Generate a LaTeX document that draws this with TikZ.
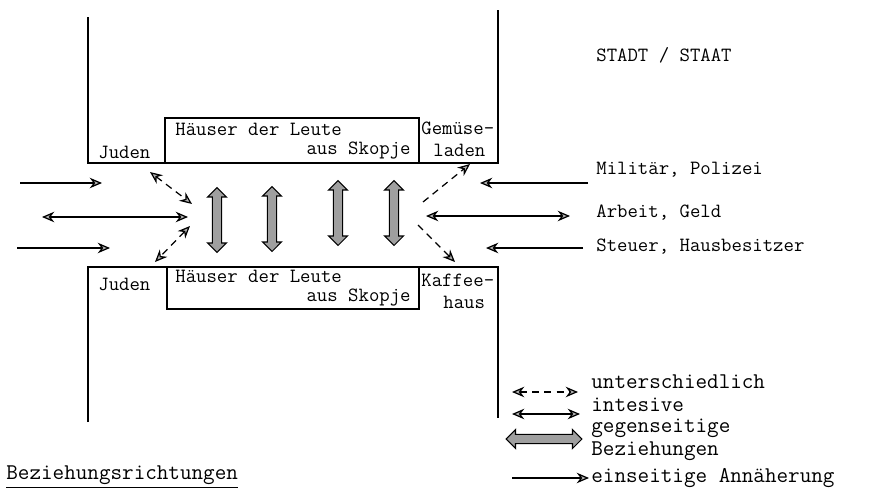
\documentclass[tikz,border=0pt]{standalone}
\usepackage{fontspec}
\usetikzlibrary{positioning}
\usetikzlibrary{arrows.meta}
\usetikzlibrary{shapes.arrows}
\tikzset{
    street plan/.style={
            x=0.02cm,y=-0.02cm,
            font=\ttfamily\fontsize{11.5}{13}\selectfont,
            wall/.style={line width=0.9pt},
            arrow/.style={line width=0.7pt,-{Stealth[fill=gray!60,length=7pt,width=6pt]}},
            both/.style={arrow,{Stealth[fill=gray!60,length=7pt,width=6pt]}-{Stealth[fill=gray!60,length=7pt,width=6pt]}},
            unsure/.style={both,dash pattern=on 4pt off 3pt},
            strong/.style={draw,line width=0.6pt,fill=gray!75,shape=double arrow,inner sep=2.3pt,
                double arrow head extend=2.8pt,minimum height=1.3cm},
            lbl/.style={inner sep=0pt,anchor=west},
            key/.style={lbl,font=\ttfamily\fontsize{12.8}{14}\selectfont}
        }
    }
\begin{document}
\begin{tikzpicture}[street plan]
                \useasboundingbox (0,0) rectangle (877,490);
                % upper side of the street
                \draw [wall] (88,17) |- (498,163) -- (498,10);
                \draw [wall] (165,163) rectangle (419,118);
                \node [lbl] (J1) at (98,152) {Juden};
                \node [lbl] (H1a) at (175,129) {Häuser der Leute};
                \node [lbl, anchor=east] (H1b) at (411,151) {aus Skopje};
                \node [lbl] (G1) at (421,128) {Gemüse-};
                \node [lbl] (G2) at (433,150) {laden};
                % lower side of the street
                \draw [wall] (88,422) |- (498,267) -- (498,418);
                \draw [wall] (167,267) rectangle (419,309);
                \node [lbl] (J2) at (98,284) {Juden};
                \node [lbl] (H2a) at (175,276) {Häuser der Leute};
                \node [lbl, anchor=east] (H2b) at (411,298) {aus Skopje};
                \node [lbl] (K1) at (421,280) {Kaffee-};
                \node [lbl] (K2) at (443,302) {haus};
                % state
                \node [lbl] (S) at (596,55) {STADT / STAAT};
                \node [lbl] (M) at (596,170) {Militär, Polizei};
                \node [lbl] (A) at (596,213) {Arbeit, Geld};
                \node [lbl] (T) at (596,247) {Steuer, Hausbesitzer};
                % arrows from the left
                \coordinate (l1) at (20,183);  \coordinate (l1e) at (102,183);
                \coordinate (l2) at (42,217);  \coordinate (l2e) at (188,217);
                \coordinate (l3) at (17,248);  \coordinate (l3e) at (110,248);
                \draw [arrow] (l1) -- (l1e);
                \draw [both] (l2) -- (l2e);
                \draw [arrow] (l3) -- (l3e);
                \coordinate (d1) at (150,172); \coordinate (d1e) at (192,204);
                \coordinate (d2) at (190,226); \coordinate (d2e) at (155,262);
                \draw [unsure] (d1) -- (d1e);
                \draw [unsure] (d2) -- (d2e);
                % arrows from the right
                \coordinate (r1) at (588,183); \coordinate (r1e) at (480,183);
                \coordinate (r2) at (426,216); \coordinate (r2e) at (570,216);
                \coordinate (r3) at (583,248); \coordinate (r3e) at (486,248);
                \draw [arrow] (r1) -- (r1e);
                \draw [both] (r2) -- (r2e);
                \draw [arrow] (r3) -- (r3e);
                \coordinate (e1) at (423,202); \coordinate (e1e) at (470,164);
                \coordinate (e2) at (418,225); \coordinate (e2e) at (455,262);
                \draw [arrow, dash pattern=on 4pt off 3pt] (e1) -- (e1e);
                \draw [arrow, dash pattern=on 4pt off 3pt] (e2) -- (e2e);
                % across the street
                \node [strong, rotate=90] (B1) at (217,220) {};
                \node [strong, rotate=90] (B2) at (272,219) {};
                \node [strong, rotate=90] (B3) at (338,213) {};
                \node [strong, rotate=90] (B4) at (394,213) {};
                % legend
                \coordinate (k1) at (512,392); \coordinate (k1e) at (578,392);
                \coordinate (k2) at (512,414); \coordinate (k2e) at (580,414);
                \coordinate (k4) at (512,478); \coordinate (k4e) at (589,478);
                \draw [unsure] (k1) -- (k1e);
                \draw [both] (k2) -- (k2e);
                \node [strong, minimum height=1.52cm] (k3) at (544,439) {};
                \draw [arrow] (k4) -- (k4e);
                \node [key] (t1) at (591,382) {unterschiedlich};
                \node [key] (t2) at (591,405) {intesive};
                \node [key] (t3) at (591,428) {gegenseitige};
                \node [key] (t4) at (591,451) {Beziehungen};
                \node [key] (t5) at (591,478) {einseitige Annäherung};
                \node [key] (R) at (6,477) {\underline{Beziehungsrichtungen}};
            \end{tikzpicture}
\end{document}
